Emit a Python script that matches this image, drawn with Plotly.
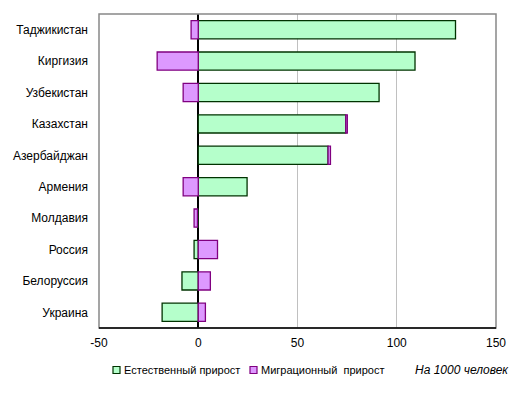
import plotly.graph_objects as go

countries = ["Таджикистан", "Киргизия", "Узбекистан", "Казахстан", "Азербайджан",
             "Армения", "Молдавия", "Россия", "Белоруссия", "Украина"]
natural = [129.6, 109.2, 91.1, 74.3, 65.4, 24.6, -0.4, -2.1, -8.2, -18.2]
migration = [-3.6, -20.7, -7.6, 0.8, 1.2, -7.6, -1.7, 9.7, 6.1, 3.6]
xticks = [-50, 0, 50, 100, 150]
series_names = ["Естественный прирост", "Миграционный  прирост"]
fills = ["#b5ffcb", "#dd99ff"]
edges = ["#003300", "#800080"]

FONT = "Liberation Sans, Arial, sans-serif"

fig = go.Figure()
for vals, name, fc, ec in zip([natural, migration], series_names, fills, edges):
    fig.add_trace(go.Bar(
        y=countries, x=vals, orientation="h", name=name,
        marker=dict(color=fc, line=dict(color=ec, width=1.3)),
    ))

# plot area (page pixels): x 99..496, y 14..328 ; page has 8px body margin
PL, PR, PT, PB = 99, 496, 14, 328
def px(x):
    return (x - PL) / (PR - PL)
def py(y):
    return (PB - y) / (PB - PT)

legend_y = 370
shapes = [
    dict(type="rect", xref="paper", yref="paper", x0=0, x1=1, y0=0, y1=1,
         line=dict(color="#888888", width=1.5), layer="above"),
    dict(type="line", xref="paper", yref="paper", x0=0, x1=1, y0=0, y1=0,
         line=dict(color="black", width=1.5), layer="above"),
]
annotations = []
legend_x = [113, 250]
for lx, name, fc, ec in zip(legend_x, series_names, fills, edges):
    shapes.append(dict(type="rect", xref="paper", yref="paper",
                       x0=px(lx), x1=px(lx + 7), y0=py(legend_y + 3.5), y1=py(legend_y - 3.5),
                       fillcolor=fc, line=dict(color=ec, width=1.2)))
    annotations.append(dict(text=name, xref="paper", yref="paper",
                            x=px(lx + 8.5), y=py(legend_y), xanchor="left", yanchor="middle",
                            showarrow=False, font=dict(size=11, family=FONT, color="black")))
annotations.append(dict(text="<i>На 1000 человек</i>", xref="paper", yref="paper",
                        x=px(511), y=py(legend_y), xanchor="right", yanchor="middle",
                        showarrow=False, font=dict(size=12, family=FONT, color="black")))

fig.update_layout(
    width=515, height=385,
    margin=dict(l=91, r=27, t=6, b=65, autoexpand=False),
    barmode="relative",
    bargap=0.42,
    plot_bgcolor="white", paper_bgcolor="white",
    font=dict(family=FONT, size=12, color="black"),
    showlegend=False,
    xaxis=dict(range=[-50, 150], tickvals=xticks, ticktext=[str(v) for v in xticks],
               showgrid=True, gridcolor="#c0c0c0", gridwidth=1,
               zeroline=True, zerolinecolor="black", zerolinewidth=1.5,
               showline=False, ticks="", ticklabelstandoff=6,
               tickfont=dict(size=12), fixedrange=True),
    yaxis=dict(categoryorder="array", categoryarray=countries, autorange="reversed",
               showgrid=False, zeroline=False, showline=False, ticks="",
               ticklabelstandoff=10, tickfont=dict(size=12)),
    shapes=shapes,
    annotations=annotations,
)

fig.write_html("out.html")
